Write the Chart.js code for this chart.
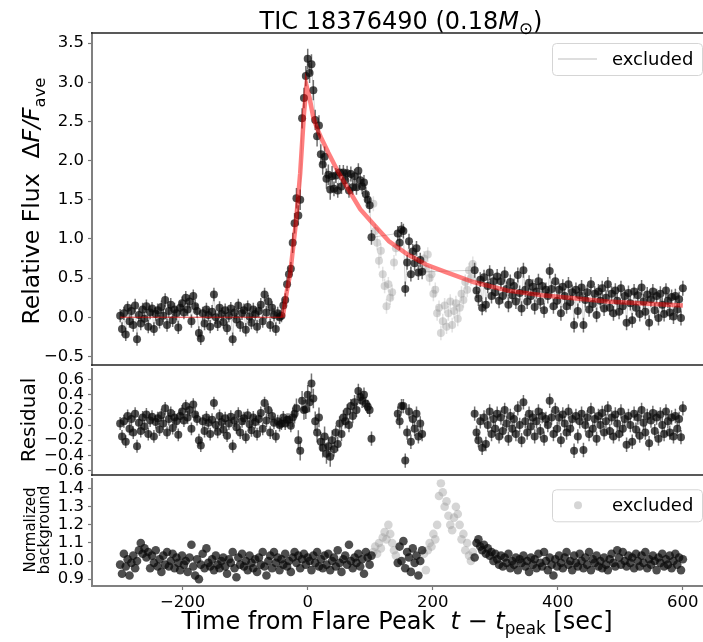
<!DOCTYPE html>
<html><head><meta charset="utf-8">
<script src="https://cdn.jsdelivr.net/npm/chart.js@4/dist/chart.umd.min.js"></script>
<style>
body{margin:0;width:703px;height:642px;overflow:hidden;background:#fff;position:relative}
canvas{position:absolute;left:0}
</style></head>
<body>
<canvas id="c1" width="720" height="380" style="top:0"></canvas>
<canvas id="c2" width="720" height="125" style="top:365px"></canvas>
<canvas id="c3" width="720" height="167" style="top:475px"></canvas>
<script>
// ---------------- data ----------------
const CADENCE = 3; // seconds between samples
const segStart = {A:-300, X1:105, B:144, X2:186, C:267};

const fluxA = [
0.02,-0.15,0.05,-0.22,0.12,-0.05,0.08,-0.1,0.15,-0.28,
0.03,-0.08,0.1,-0.02,0.14,-0.12,0.06,0.11,-0.15,0.04,
0.09,-0.06,0.13,0.02,0.22,-0.1,0.08,0.16,-0.04,0.1,
0.05,-0.13,0.12,0.18,0.06,0.25,0.1,0.2,-0.05,0.27,
0.14,0.08,-0.2,-0.27,0.05,-0.08,0.1,0.03,-0.12,0.07,
0.29,0.0,-0.09,0.12,0.04,-0.06,0.09,-0.14,0.02,0.11,
-0.28,0.06,-0.03,0.15,-0.1,0.05,0.09,-0.16,0.13,0.01,
-0.07,0.1,0.04,-0.12,0.08,0.16,-0.05,0.29,0.06,0.2,
-0.1,0.12,0.03,-0.15,0.05,0.0,
0.02,0.15,0.22,0.42,0.55,0.62,0.95,1.2,1.52,1.3,1.5,2.54,2.8,3.08,3.3,
3.12,3.23,2.9,2.52,2.31,2.45,2.08,1.95,2.05,1.77,1.82,1.63,1.8,1.64,1.81,1.62,1.85,
1.67,1.85,1.75,1.84,1.62,1.83,1.66,1.8,1.66,1.87,1.75,1.67,1.72,1.57,1.5,1.43,1.02];
const fluxX1 = [1.45,1.1,0.95,0.72,0.85,0.55,0.4,0.14,0.42,0.25,0.32,0.7,0.88];
const fluxB = [1.07,0.95,1.12,1.1,0.36,0.7,0.97,0.55,0.84,0.69,0.88,0.57,0.73,0.58];
const fluxX2 = [0.75,0.62,0.8,0.5,0.55,0.3,0.35,0.05,0.12,-0.2,-0.05,0.15,-0.12,0.05,0.2,-0.1,0.08,0.18,-0.02,0.12,0.3,0.22,0.45,0.35,0.6,0.5,0.68];
const fluxC = [
.6,.34,.24,.48,.12,.51,.16,.40,.57,.27, .46,.32,.52,.21,.46,.27,.55,.36,.16,.45,
.28,.40,.20,.54,.31,.11,.6,.35,.20,.44, .27,.39,.13,.33,.46,.20,.40,.09,.35,.27,
.59,.36,.14,.46,.21,.35,.05,.39,.27,.14, .42,.19,.32,-.1,.35,.08,.28,.38,-.1,.22,
.32,.10,.42,.17,.30,.03,.33,.21,.37,.11, .25,.42,.12,.30,.05,.34,.21,.07,.37,.14,
.27,-.07,.31,.18,-.04,.33,.12,.28,.04,.38, .20,.07,.29,-.07,.23,.33,.09,.27,-.01,.30,
.16,.04,.34,.21,.06,.26,.01,.27,.10,.23, -.01,.37];

const residA = [
0.02,-0.15,0.05,-0.22,0.12,-0.05,0.08,-0.1,0.15,-0.28,
0.03,-0.08,0.1,-0.02,0.14,-0.12,0.06,0.11,-0.15,0.04,
0.09,-0.06,0.13,0.02,0.22,-0.1,0.08,0.16,-0.04,0.1,
0.05,-0.13,0.12,0.18,0.06,0.25,0.1,0.2,-0.05,0.27,
0.14,0.08,-0.2,-0.27,0.05,-0.08,0.1,0.03,-0.12,0.07,
0.29,0.0,-0.09,0.12,0.04,-0.06,0.09,-0.14,0.02,0.11,
-0.28,0.06,-0.03,0.15,-0.1,0.05,0.09,-0.16,0.13,0.01,
-0.07,0.1,0.04,-0.12,0.08,0.16,-0.05,0.29,0.06,0.2,
-0.1,0.12,0.03,-0.15,0.05,0.0,
0.02,0.1,0.02,0.07,0.07,-0.01,0.1,0.15,0.22,-0.2,-0.34,0.32,0.2,0.21,0.4,
0.3,0.55,0.35,0.05,-0.1,0.1,-0.22,-0.3,-0.15,-0.38,-0.28,-0.42,-0.2,-0.32,-0.1,-0.25,0.02,
-0.12,0.1,0.05,0.18,0.0,0.25,0.12,0.3,0.2,0.45,0.37,0.32,0.4,0.28,0.24,0.2,-0.18];
const residB = [0.15,0.05,0.25,0.25,-0.47,-0.1,0.18,-0.22,0.08,-0.05,0.15,-0.15,0.02,-0.12];
const residC = [
.15,-.1,-.2,.05,-.3,.1,-.25,.0,.18,-.12, .08,-.05,.15,-.15,.1,-.08,.2,.02,-.18,.12,
-.05,.08,-.12,.22,.0,-.2,.3,.05,-.1,.15, -.02,.1,-.15,.05,.18,-.08,.12,-.18,.08,.0,
.32,.1,-.12,.2,-.05,.1,-.2,.14,.02,-.1, .18,-.05,.08,-.34,.12,-.15,.05,.15,-.33,.0,
.1,-.12,.2,-.05,.08,-.18,.12,.0,.16,-.1, .05,.22,-.08,.1,-.15,.14,.02,-.12,.18,-.05,
.08,-.26,.12,.0,-.22,.15,-.06,.1,-.14,.2, .03,-.1,.12,-.24,.06,.16,-.08,.1,-.18,.14,
.0,-.12,.18,.05,-.1,.1,-.15,.12,-.05,.08, -.16,.22];

const bkgA = [
0.98,0.93,1.04,0.97,1.01,0.92,0.99,1.03,0.96,1.0,
1.06,1.1,1.04,1.07,1.02,1.05,0.96,1.03,0.99,1.06,
0.97,1.01,0.94,1.03,0.98,1.05,0.97,1.0,1.04,0.96,
1.02,0.99,0.95,1.03,0.98,1.0,0.94,1.02,1.09,0.97,
0.92,1.01,0.9,0.98,1.04,0.96,1.07,0.99,0.97,1.01,
0.95,1.03,0.98,0.96,1.0,1.02,0.97,0.93,1.01,0.99,
1.05,0.96,0.91,1.02,0.98,1.04,0.97,1.0,0.95,1.03,
0.99,0.96,1.01,0.94,1.02,0.98,1.05,0.97,0.92,1.0,
1.03,0.96,1.05,0.99,1.02,0.95,1.01,0.98,1.04,0.97,
1.0,0.94,1.02,1.05,0.99,1.03,0.96,1.01,1.04,0.98,
1.02,1.0,0.95,1.03,0.99,1.05,0.97,1.01,0.96,1.03,
0.98,1.04,0.95,1.0,1.02,0.97,1.06,0.99,0.94,1.01,
1.03,0.98,1.09,1.0,0.96,1.02,0.99,1.04,0.97,1.01,
0.93,1.05,1.02,0.98,1.03];
const bkgX1 = [1.05,1.08,1.04,1.1,1.07,1.13,1.16,1.12,1.2,1.15,1.1,1.06,1.03];
const bkgB = [0.99,1.08,1.0,1.11,0.96,1.05,1.02,0.94,1.07,0.99,1.03,0.92,1.0,1.06];
const bkgX2 = [1.04,0.95,1.06,1.1,1.08,1.15,1.12,1.2,1.36,1.43,1.38,1.3,1.33,1.25,1.2,1.17,1.24,1.3,1.26,1.2,1.12,1.15,1.06,1.1,1.03,1.0,1.05];
const bkgC = [
1.02,1.1,1.12,1.08,1.06,1.09,1.04,1.07,1.03,1.05, 1.0,1.04,1.01,0.98,1.03,0.97,1.02,0.99,1.04,0.96,
1.0,0.98,1.02,0.95,1.01,0.99,1.03,0.97,1.0,0.94, 1.02,0.98,1.01,0.96,1.04,0.99,0.97,1.05,1.0,0.95,
1.02,0.98,0.92,1.01,0.97,1.03,0.99,0.96,1.02,1.05, 0.98,1.0,0.95,1.03,0.99,0.97,1.04,1.0,0.96,1.02,
0.98,1.05,0.95,1.01,0.99,1.03,0.97,1.0,0.96,1.02, 0.98,0.95,1.01,1.04,0.99,0.97,1.06,1.02,0.98,1.05,
1.0,0.97,1.03,0.99,1.02,0.96,1.04,1.0,0.97,1.03, 0.99,1.05,0.96,1.01,0.98,1.03,1.0,0.95,1.02,0.99,
1.04,0.97,1.01,0.98,1.03,0.96,1.0,1.04,0.98,1.02, 0.95,1.01];

// flare model (red curve), sampled at these times
const modelT = [-300,-40,-33,-28,-19,-12,-6,-2,3,9,15,21,33,47,63,84,106,130,160,190,220,265,320,375,430,480,530,600];
const modelY = [0,0,0.35,0.56,1.2,1.84,2.6,2.96,2.8,2.55,2.41,2.3,2.1,1.88,1.66,1.38,1.18,0.97,0.8,0.67,0.58,0.45,0.34,0.28,0.24,0.20,0.18,0.15];
const flareStart = -40;

// error bar half-lengths: [from, to, err]
const errRanges = [[-300,-25,0.085],[-25,40,0.13],[40,600,0.095]];

// axes
const timeRange = [-345, 645];
const fluxRange = [-0.61, 3.63];
const residRange = [-0.66, 0.74];
const bkgRange = [0.862, 1.452];
const timeTicks = [-200,0,200,400,600];
const fluxTicks = [-0.5,0,0.5,1,1.5,2,2.5,3,3.5];
const residTicks = [-0.6,-0.4,-0.2,0,0.2,0.4,0.6];
const bkgTicks = [0.9,1.0,1.1,1.2,1.3,1.4];

// ---------------- helpers ----------------
const FAM = 'DejaVu Sans';
function pts(t0, ys){ return ys.map((y,k)=>({x:t0+k*CADENCE, y})); }
function errOf(t){ for(const r of errRanges){ if(t>=r[0] && t<r[1]) return r[2]; } return errRanges[errRanges.length-1][2]; }
function errBars(points){ const out=[]; points.forEach(p=>{ const e=errOf(p.x); out.push({x:p.x,y:p.y-e},{x:p.x,y:p.y+e},{x:p.x,y:null}); }); return out; }
const minus = s => s.replace('-', '\u2212');

const fluxInc = [...pts(segStart.A,fluxA), ...pts(segStart.B,fluxB), ...pts(segStart.C,fluxC)];
const fluxExc = [...pts(segStart.X1,fluxX1), ...pts(segStart.X2,fluxX2)];
const residInc = [...pts(segStart.A,residA), ...pts(segStart.B,residB), ...pts(segStart.C,residC)];
const bkgInc = [...pts(segStart.A,bkgA), ...pts(segStart.B,bkgB), ...pts(segStart.C,bkgC)];
const bkgExc = [...pts(segStart.X1,bkgX1), ...pts(segStart.X2,bkgX2)];
const model = modelT.map((t,i)=>({x:t,y:modelY[i]}));
const modelFlare = model.filter(p=>p.x>=flareStart);
const modelQuiet = model.filter(p=>p.x<=flareStart);

function drawRich(ctx, segs, S, x, y, rot){
  ctx.save(); ctx.translate(x,y); if(rot) ctx.rotate(rot);
  const parts = segs.map(s=>{ const size = s.sub? S*0.7 : S; const font=(s.it?'italic ':'')+size+'px "'+FAM+'"'; ctx.font=font; return {s,font,w:ctx.measureText(s.t).width, dy: s.sub? S*0.22:0}; });
  const total = parts.reduce((a,p)=>a+p.w,0);
  let cx = -total/2;
  ctx.textBaseline='alphabetic'; ctx.textAlign='left'; ctx.fillStyle='#000';
  parts.forEach(p=>{ ctx.font=p.font; ctx.fillText(p.s.t, cx, S*0.36+p.dy); cx+=p.w; });
  ctx.restore();
}

const deco = {
  id:'deco',
  afterDraw(chart, args, o){
    const ctx=chart.ctx, a=chart.chartArea;
    ctx.save();
    ctx.strokeStyle='#222'; ctx.lineWidth=1.5;
    if(o.frameTop){ ctx.beginPath(); ctx.moveTo(a.left-1,a.top); ctx.lineTo(chart.width,a.top); ctx.stroke(); }
    if(o.frameBottom){ ctx.beginPath(); ctx.moveTo(a.left-1,a.bottom); ctx.lineTo(chart.width,a.bottom); ctx.stroke(); }
    (o.texts||[]).forEach(tx=>drawRich(ctx, tx.segs, tx.size, tx.x, tx.y, tx.rot||0));
    if(o.legend){
      const bx=a.right-159, by=a.top+10, bw=150, bh=32;
      ctx.beginPath(); ctx.roundRect(bx+0.5,by+0.5,bw,bh,4);
      ctx.fillStyle='rgba(255,255,255,0.8)'; ctx.fill();
      ctx.strokeStyle='#d5d5d5'; ctx.lineWidth=1; ctx.stroke();
      const cy=by+bh/2;
      if(o.legend==='line'){ ctx.strokeStyle='#d3d3d3'; ctx.lineWidth=1.5; ctx.beginPath(); ctx.moveTo(bx+6,cy); ctx.lineTo(bx+45,cy); ctx.stroke(); }
      else { ctx.fillStyle='rgba(150,150,150,0.4)'; ctx.beginPath(); ctx.arc(bx+26,cy,4,0,Math.PI*2); ctx.fill(); }
      ctx.fillStyle='#000'; ctx.font='18px "'+FAM+'"'; ctx.textBaseline='middle'; ctx.textAlign='left';
      ctx.fillText('excluded', bx+60, cy+1);
    }
    ctx.restore();
  }
};

const TICKFONT = {family:FAM, size:16.5};
function yScale(range, ticks){
  return {
    type:'linear', min:range[0], max:range[1],
    afterBuildTicks: s=>{ s.ticks = ticks.map(v=>({value:v})); },
    afterFit: s=>{ s.width = 92; s.paddingTop = 0; s.paddingBottom = 0; },
    ticks:{ font:TICKFONT, color:'#000', padding:4, autoSkip:false, callback:v=>minus(v.toFixed(1)) },
    grid:{ drawOnChartArea:false, tickLength:4, color:'#777', tickWidth:1.2 },
    border:{ color:'#808080', width:2 }
  };
}
function xScale(show){
  return {
    type:'linear', min:timeRange[0], max:timeRange[1], display:show,
    afterBuildTicks: s=>{ s.ticks = timeTicks.map(v=>({value:v})); },
    afterFit: s=>{ s.height = show ? 56 : 0; s.paddingLeft = 0; s.paddingRight = 0; },
    ticks:{ font:TICKFONT, color:'#000', padding:3, autoSkip:false, maxRotation:0, callback:v=>minus(String(v)) },
    grid:{ drawOnChartArea:false, tickLength:4, color:'#777', tickWidth:1.2 },
    border:{ color:'#808080', width:2 }
  };
}
const base = (extra)=>({
  animation:false, responsive:false, devicePixelRatio:1, events:[],
  layout:{ padding:{left:0,right:9,top:extra.top||0,bottom:extra.bottom||0} },
  plugins:{ legend:{display:false}, tooltip:{enabled:false}, deco:extra.deco },
  scales:{ x:xScale(extra.showX||false), y:yScale(extra.yr, extra.yt) }
});

const ptInc = {pointRadius:4, pointBackgroundColor:'rgba(10,10,10,0.72)', pointBorderWidth:0, showLine:false};
const errInc = {showLine:true, spanGaps:false, pointRadius:0, borderColor:'rgba(20,20,20,0.6)', borderWidth:1.5};

// ---------------- panel 1: flux ----------------
new Chart(document.getElementById('c1'), {
  type:'scatter',
  plugins:[deco],
  data:{ datasets:[
    {label:'model', data:modelFlare, showLine:true, pointRadius:0, borderColor:'rgba(255,0,0,0.5)', borderWidth:4.5, order:1},
    {label:'model (quiescent)', data:modelQuiet, showLine:true, pointRadius:0, borderColor:'rgba(220,0,0,0.75)', borderWidth:1, order:2},
    {label:'flux', data:fluxInc, ...ptInc, order:3},
    {label:'flux err', data:errBars(fluxInc), ...errInc, order:4},
    {label:'excluded pts', data:fluxExc, pointRadius:4, pointBackgroundColor:'rgba(140,140,140,0.35)', pointBorderWidth:0, showLine:false, order:5},
    {label:'excluded err', data:errBars(fluxExc), showLine:true, spanGaps:false, pointRadius:0, borderColor:'rgba(140,140,140,0.25)', borderWidth:1.5, order:6},
    {label:'excluded', data:fluxInc, showLine:true, pointRadius:0, borderColor:'#d3d3d3', borderWidth:1, order:7}
  ]},
  options: base({top:33, bottom:15, yr:fluxRange, yt:fluxTicks, deco:{
    frameTop:true, frameBottom:true, legend:'line',
    texts:[
      {segs:[{t:'TIC 18376490 (0.18'},{t:'M',it:true},{t:'\u2299',sub:true},{t:')'}], size:24, x:401, y:20},
      {segs:[{t:'Relative Flux  '},{t:'\u0394'},{t:'F/F',it:true},{t:'ave',sub:true}], size:23.5, x:31, y:201, rot:-Math.PI/2}
    ]}})
});

// ---------------- panel 2: residual ----------------
new Chart(document.getElementById('c2'), {
  type:'scatter',
  plugins:[deco],
  data:{ datasets:[
    {label:'residual', data:residInc, ...ptInc, order:1},
    {label:'residual err', data:errBars(residInc), ...errInc, order:2}
  ]},
  options: base({top:0, bottom:15, yr:residRange, yt:residTicks, deco:{
    frameBottom:true,
    texts:[{segs:[{t:'Residual'}], size:20, x:27.5, y:55, rot:-Math.PI/2}]}})
});

// ---------------- panel 3: background ----------------
new Chart(document.getElementById('c3'), {
  type:'scatter',
  plugins:[deco],
  data:{ datasets:[
    {label:'background', data:bkgInc, pointRadius:4.3, pointBackgroundColor:'rgba(10,10,10,0.72)', pointBorderWidth:0, showLine:false, order:1},
    {label:'excluded', data:bkgExc, pointRadius:4.3, pointBackgroundColor:'rgba(150,150,150,0.4)', pointBorderWidth:0, showLine:false, order:2}
  ]},
  options: base({top:0, bottom:0, showX:true, yr:bkgRange, yt:bkgTicks, deco:{
    legend:'dot',
    texts:[
      {segs:[{t:'Normalized'}], size:15, x:29.5, y:55, rot:-Math.PI/2},
      {segs:[{t:'background'}], size:15, x:44, y:55, rot:-Math.PI/2},
      {segs:[{t:'Time from Flare Peak  '},{t:'t',it:true},{t:' \u2212 '},{t:'t',it:true},{t:'peak',sub:true},{t:' [sec]'}], size:24, x:397, y:145}
    ]}})
});
</script>
</body></html>
